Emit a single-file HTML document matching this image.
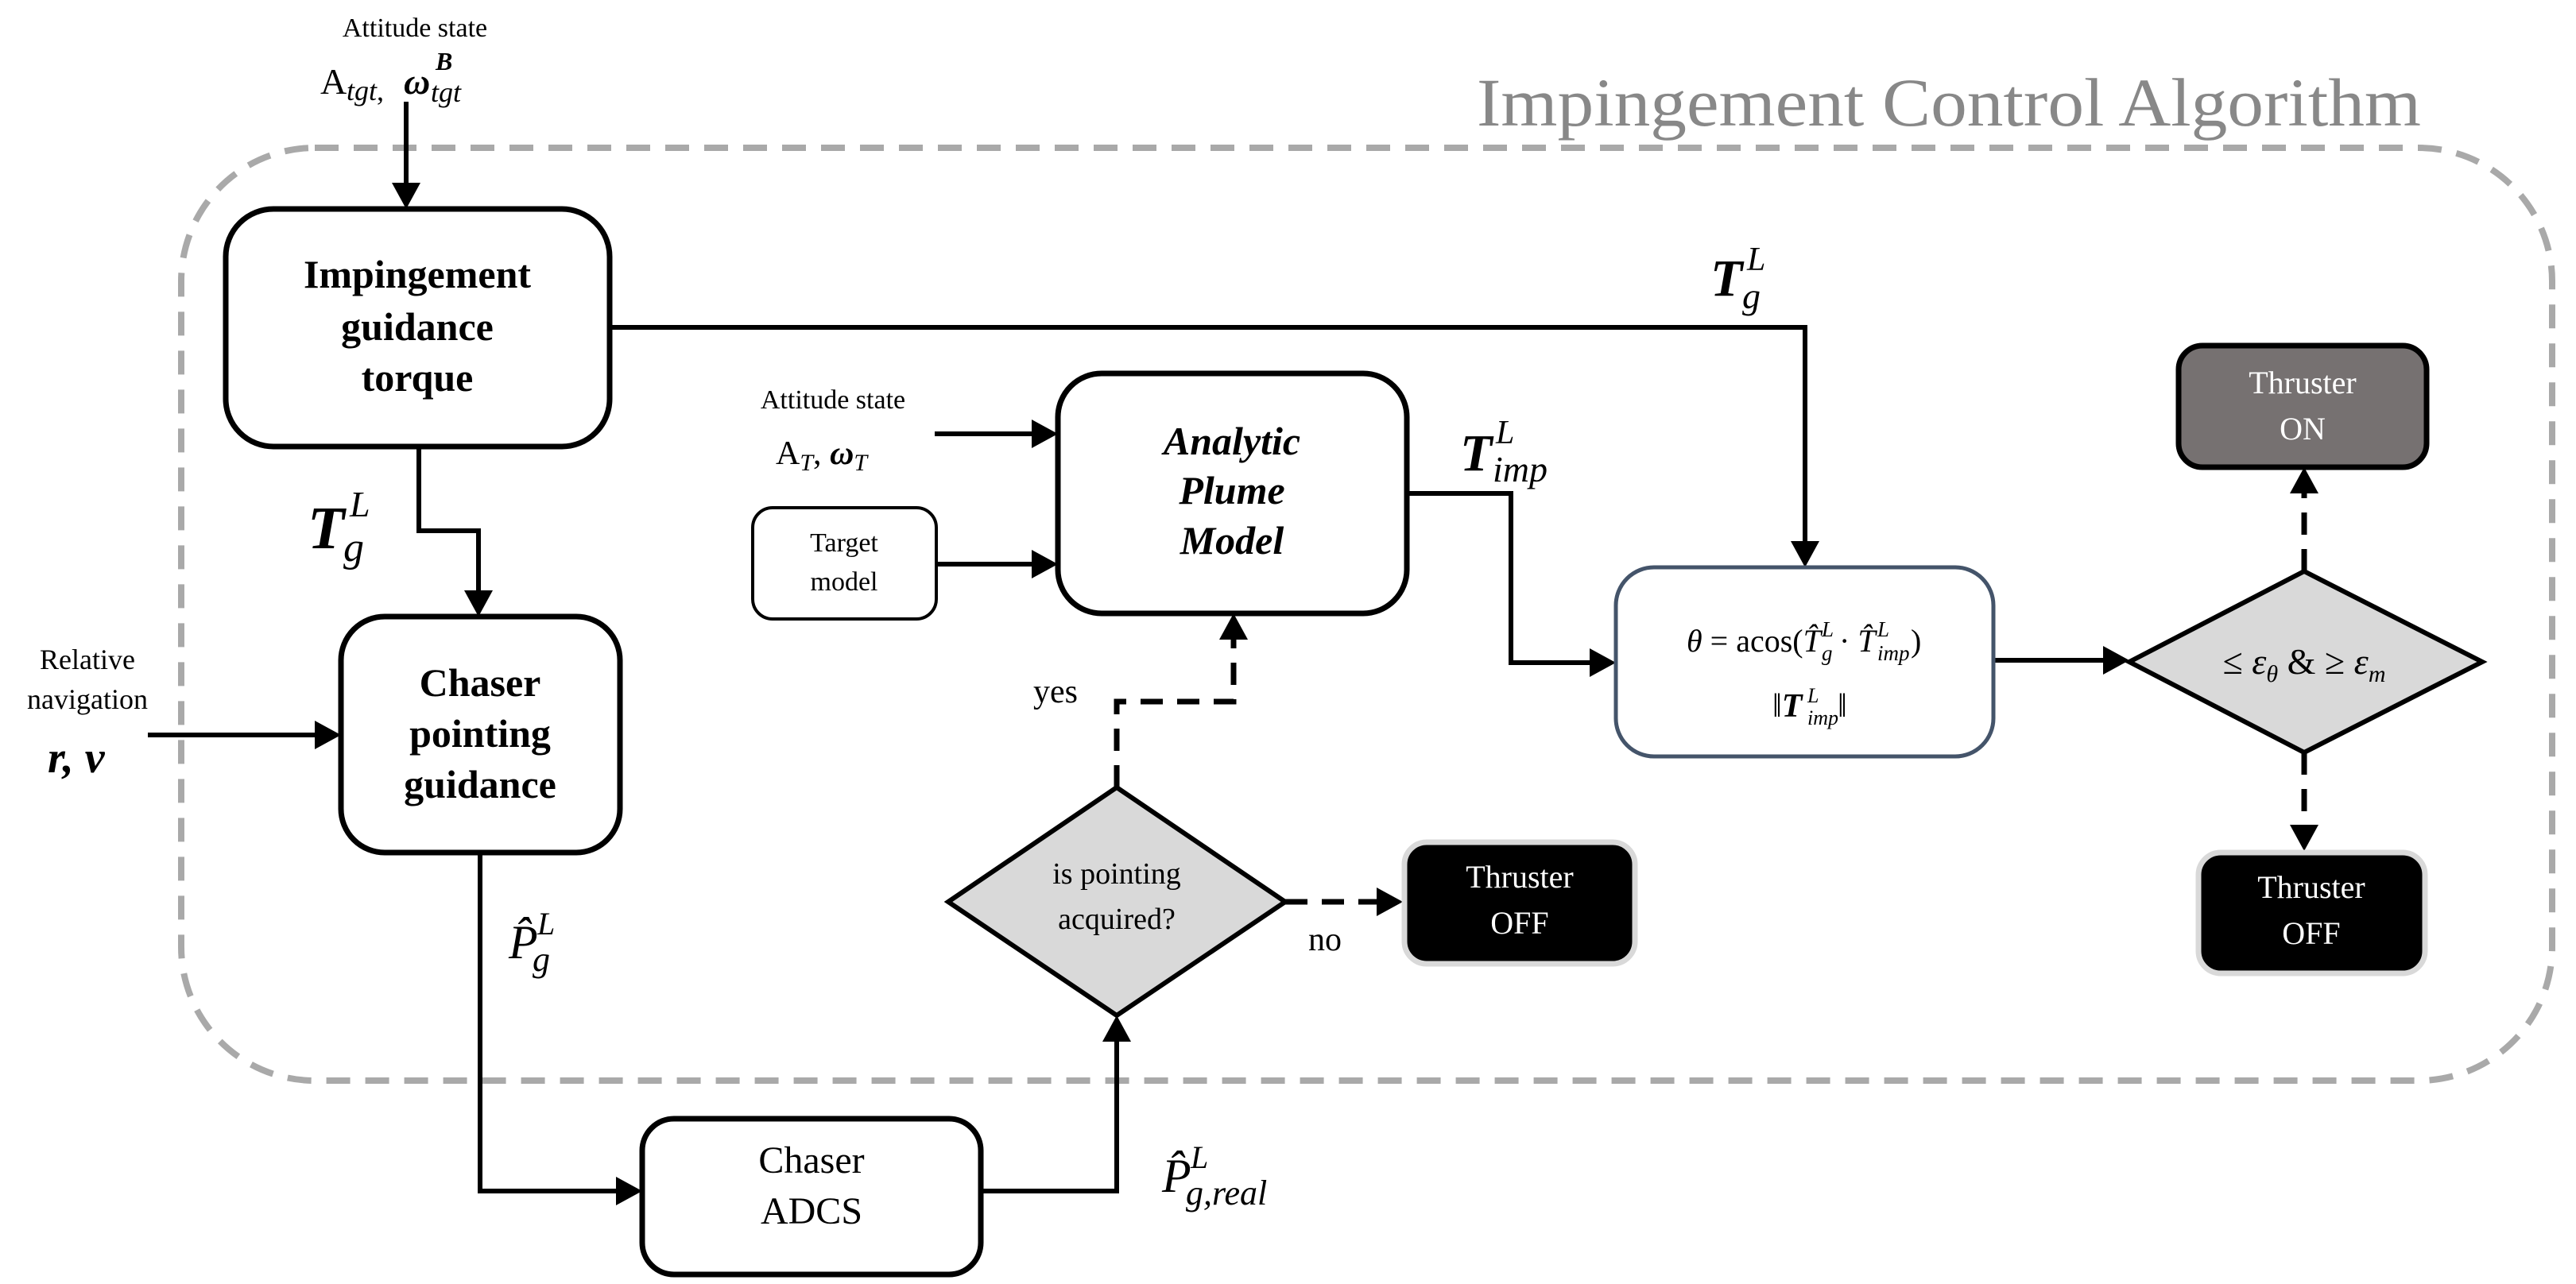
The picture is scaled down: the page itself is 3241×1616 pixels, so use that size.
<!DOCTYPE html>
<html><head><meta charset="utf-8"><style>
html,body{margin:0;padding:0;background:#fff;}
svg{display:block;}
text{font-family:"Liberation Serif","DejaVu Serif",serif;}
</style></head><body>
<svg width="3241" height="1616" viewBox="0 0 3241 1616" xmlns="http://www.w3.org/2000/svg">
<rect x="228" y="186" width="2983" height="1174" rx="168" ry="168" fill="none" stroke="#a9a9a9" stroke-width="8" stroke-dasharray="30 19"/>
<text x="1858" y="158" font-size="86" fill="#888" textLength="1188" lengthAdjust="spacingAndGlyphs">Impingement Control Algorithm</text>

<g stroke="#000" stroke-width="6" fill="none">
<line x1="511" y1="128" x2="511" y2="235"/>
<polyline points="767,412 2271,412 2271,686"/>
<polyline points="527,562 527,668 602,668 602,748"/>
<line x1="1176" y1="546" x2="1303" y2="546"/>
<line x1="1178" y1="710" x2="1303" y2="710"/>
<polyline points="1770,621 1901,621 1901,834 2005,834"/>
<line x1="2508" y1="831" x2="2651" y2="831"/>
<line x1="186" y1="925" x2="401" y2="925"/>
<polyline points="604,1073 604,1499 780,1499"/>
<polyline points="1234,1499 1405,1499 1405,1306"/>
</g>
<g stroke="#000" stroke-width="7" fill="none" stroke-dasharray="28 18">
<polyline points="1405,991 1405,883 1552,883 1552,805"/>
<line x1="1617" y1="1135" x2="1737" y2="1135"/>
<line x1="2899" y1="719" x2="2899" y2="618"/>
<line x1="2899" y1="947" x2="2899" y2="1041"/>
</g>
<g fill="#000">
<polygon points="493,230 529,230 511,263"/>
<polygon points="2253,681 2289,681 2271,714"/>
<polygon points="584,743 620,743 602,776"/>
<polygon points="1298,528 1298,564 1331,546"/>
<polygon points="1298,692 1298,728 1331,710"/>
<polygon points="2000,816 2000,852 2033,834"/>
<polygon points="2646,813 2646,849 2679,831"/>
<polygon points="396,907 396,943 429,925"/>
<polygon points="775,1481 775,1517 808,1499"/>
<polygon points="1387,1311 1423,1311 1405,1278"/>
<polygon points="1534,805 1570,805 1552,772"/>
<polygon points="1732,1117 1732,1153 1765,1135"/>
<polygon points="2881,621 2917,621 2899,588"/>
<polygon points="2881,1038 2917,1038 2899,1071"/>
</g>

<rect x="284" y="263" width="483" height="299" rx="60" fill="#fff" stroke="#000" stroke-width="7"/>
<g font-size="50" font-weight="bold" text-anchor="middle">
<text x="525" y="362">Impingement</text>
<text x="525" y="428">guidance</text>
<text x="525" y="492">torque</text>
</g>
<rect x="429" y="776" width="351" height="297" rx="55" fill="#fff" stroke="#000" stroke-width="7"/>
<g font-size="50" font-weight="bold" text-anchor="middle">
<text x="604" y="876">Chaser</text>
<text x="604" y="940">pointing</text>
<text x="604" y="1004">guidance</text>
</g>
<rect x="1331" y="470" width="439" height="302" rx="55" fill="#fff" stroke="#000" stroke-width="7"/>
<g font-size="50" font-weight="bold" font-style="italic" text-anchor="middle">
<text x="1550" y="572">Analytic</text>
<text x="1550" y="634">Plume</text>
<text x="1550" y="697">Model</text>
</g>
<rect x="947" y="639" width="231" height="140" rx="25" fill="#fff" stroke="#000" stroke-width="4"/>
<g font-size="34" text-anchor="middle">
<text x="1062" y="694">Target</text>
<text x="1062" y="743">model</text>
</g>
<rect x="808" y="1408" width="426" height="196" rx="40" fill="#fff" stroke="#000" stroke-width="7"/>
<g font-size="48" text-anchor="middle">
<text x="1021" y="1476">Chaser</text>
<text x="1021" y="1540">ADCS</text>
</g>
<rect x="2033" y="714" width="475" height="238" rx="48" fill="#fff" stroke="#44546a" stroke-width="5"/>
<g font-size="40">
<text x="2122" y="820"><tspan font-style="italic">θ</tspan> = acos(<tspan font-style="italic">T̂</tspan></text>
<text x="2292" y="831" font-size="27" font-style="italic">g</text>
<text x="2292" y="801" font-size="27" font-style="italic">L</text>
<text x="2314" y="820">· <tspan font-style="italic">T̂</tspan></text>
<text x="2362" y="831" font-size="27" font-style="italic">imp</text>
<text x="2362" y="801" font-size="27" font-style="italic">L</text>
<text x="2404" y="820">)</text>
</g>
<text x="2230" y="902" font-size="42">‖<tspan font-weight="bold" font-style="italic">T</tspan></text>
<text x="2274" y="912" font-size="26" font-style="italic">imp</text>
<text x="2274" y="884" font-size="26" font-style="italic">L</text>
<text x="2312" y="902" font-size="42">‖</text>

<polygon points="2679,833 2899,719 3123,833 2899,947" fill="#d9d9d9" stroke="#000" stroke-width="6"/>
<text x="2899" y="848" font-size="46" text-anchor="middle">≤ <tspan font-style="italic">ε</tspan><tspan font-size="30" font-style="italic" dy="10">θ</tspan><tspan dy="-10"> &amp; ≥ </tspan><tspan font-style="italic">ε</tspan><tspan font-size="30" font-style="italic" dy="10">m</tspan></text>
<polygon points="1193,1135 1405,991 1617,1135 1405,1278" fill="#d9d9d9" stroke="#000" stroke-width="6"/>
<g font-size="38" text-anchor="middle">
<text x="1405" y="1112">is pointing</text>
<text x="1405" y="1169">acquired?</text>
</g>

<rect x="2741" y="435" width="312" height="153" rx="30" fill="#767171" stroke="#000" stroke-width="7"/>
<g font-size="40" fill="#fff" text-anchor="middle">
<text x="2897" y="495">Thruster</text>
<text x="2897" y="553">ON</text>
</g>
<rect x="2766" y="1073" width="285" height="152" rx="28" fill="#000" stroke="#d9d9d9" stroke-width="7"/>
<g font-size="40" fill="#fff" text-anchor="middle">
<text x="2908" y="1130">Thruster</text>
<text x="2908" y="1188">OFF</text>
</g>
<rect x="1767" y="1060" width="290" height="153" rx="28" fill="#000" stroke="#d9d9d9" stroke-width="7"/>
<g font-size="40" fill="#fff" text-anchor="middle">
<text x="1912" y="1117">Thruster</text>
<text x="1912" y="1175">OFF</text>
</g>

<text x="522" y="46" font-size="34" text-anchor="middle">Attitude state</text>
<text x="403" y="118" font-size="46">A</text>
<text x="436" y="126" font-size="36" font-style="italic">tgt<tspan font-style="normal">,</tspan></text>
<text x="508" y="118" font-size="46" font-weight="bold" font-style="italic">ω</text>
<text x="542" y="128" font-size="36" font-style="italic">tgt</text>
<text x="548" y="88" font-size="32" font-weight="bold" font-style="italic">B</text>
<text x="1048" y="514" font-size="34" text-anchor="middle">Attitude state</text>
<text x="976" y="584" font-size="42">A<tspan font-style="italic" font-size="30" dy="8">T</tspan><tspan dy="-8">, </tspan><tspan font-weight="bold" font-style="italic">ω</tspan><tspan font-style="italic" font-size="30" dy="8">T</tspan></text>
<text x="110" y="842" font-size="36" text-anchor="middle">Relative</text>
<text x="110" y="892" font-size="36" text-anchor="middle">navigation</text>
<text x="60" y="972" font-size="56" font-weight="bold" font-style="italic">r, v</text>
<text x="387" y="690" font-size="76" font-weight="bold" font-style="italic">T</text>
<text x="432" y="706" font-size="52" font-style="italic">g</text>
<text x="440" y="650" font-size="46" font-style="italic">L</text>
<text x="2152" y="372" font-size="66" font-weight="bold" font-style="italic">T</text>
<text x="2192" y="388" font-size="46" font-style="italic">g</text>
<text x="2198" y="340" font-size="42" font-style="italic">L</text>
<text x="1837" y="592" font-size="66" font-weight="bold" font-style="italic">T</text>
<text x="1878" y="606" font-size="46" font-style="italic">imp</text>
<text x="1882" y="558" font-size="42" font-style="italic">L</text>
<text x="640" y="1206" font-size="60" font-style="italic">P̂</text>
<text x="670" y="1222" font-size="44" font-style="italic">g</text>
<text x="676" y="1176" font-size="40" font-style="italic">L</text>
<text x="1462" y="1500" font-size="60" font-style="italic">P̂</text>
<text x="1492" y="1516" font-size="44" font-style="italic">g,real</text>
<text x="1498" y="1470" font-size="40" font-style="italic">L</text>
<text x="1300" y="884" font-size="42">yes</text>
<text x="1646" y="1196" font-size="42">no</text>
</svg>
</body></html>
